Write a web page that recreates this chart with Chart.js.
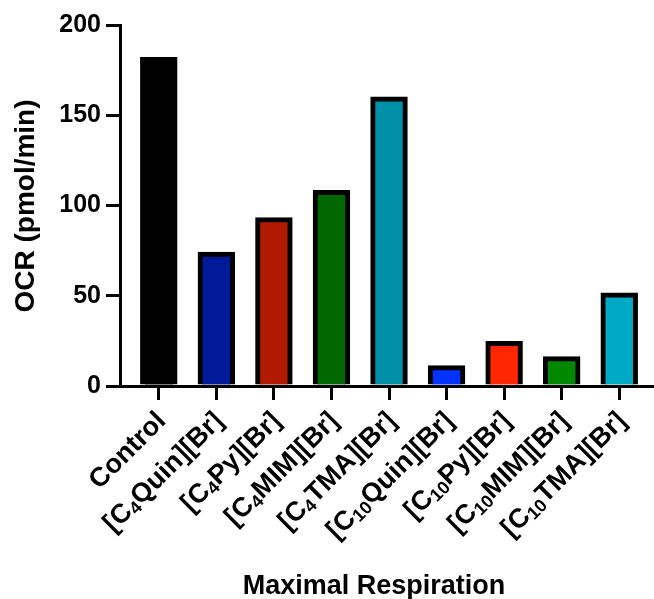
<!DOCTYPE html>
<html>
<head>
<meta charset="utf-8">
<script src="https://cdn.jsdelivr.net/npm/chart.js@4"></script>
<style>
  html, body { margin: 0; padding: 0; background: #fff; }
  #wrap { width: 654px; height: 599px; }
</style>
</head>
<body>
<div id="wrap"><canvas id="chart" width="654" height="599"></canvas></div>
<script>
// OCR values per compound (pmol/min)
const categories = ['Control', '[C4Quin][Br]', '[C4Py][Br]', '[C4MIM][Br]', '[C4TMA][Br]',
    '[C10Quin][Br]', '[C10Py][Br]', '[C10MIM][Br]', '[C10TMA][Br]'];
const ocr = [182, 74, 93.2, 108.2, 160.1, 11.2, 24.6, 16.2, 51.5];
const barColors = ['#000000', '#001a99', '#b01a00', '#006600', '#0090a8',
    '#0033ff', '#ff2600', '#008800', '#00aac5'];
const yTicks = [0, 50, 100, 150, 200];

const xTitle = 'Maximal Respiration';
const yTitle = 'OCR (pmol/min)';

const FONT = '"Liberation Sans", Arial, sans-serif';
Chart.defaults.font.family = FONT;
Chart.defaults.color = '#000';

// rotated category labels with subscripted chain length
const labelPlugin = {
    id: 'labels',
    afterDraw(chart) {
        const ctx = chart.ctx;
        const xs = chart.scales.x;
        const size = 27, subSize = 18;
        categories.forEach((name, i) => {
            const m = name.match(/^(\[C)(\d+)(.*)$/);
            const parts = m ? [[m[1], size, 0], [m[2], subSize, 6], [m[3], size, 0]] : [[name, size, 0]];
            ctx.save();
            let total = 0;
            parts.forEach(p => { ctx.font = 'bold ' + p[1] + 'px ' + FONT; total += ctx.measureText(p[0]).width; });
            ctx.translate(xs.getPixelForValue(i) + 3, 417);
            ctx.rotate(-Math.PI / 4);
            ctx.fillStyle = '#000';
            ctx.textBaseline = 'middle';
            ctx.textAlign = 'left';
            let u = -total;
            parts.forEach(p => {
                ctx.font = 'bold ' + p[1] + 'px ' + FONT;
                ctx.fillText(p[0], u, p[2]);
                u += ctx.measureText(p[0]).width;
            });
            ctx.restore();
        });

        // axis titles
        ctx.save();
        ctx.fillStyle = '#000';
        ctx.textAlign = 'center';
        ctx.textBaseline = 'alphabetic';
        ctx.font = 'bold 27px ' + FONT;
        ctx.fillText(xTitle, 374, 594);
        ctx.translate(34, 206);
        ctx.rotate(-Math.PI / 2);
        ctx.font = 'bold 28px ' + FONT;
        ctx.fillText(yTitle, 0, 0);
        ctx.restore();
    }
};

const ctx = document.getElementById('chart').getContext('2d');
new Chart(ctx, {
    type: 'bar',
    data: {
        datasets: [{
            data: ocr.map((v, i) => ({ x: i, y: v })),
            backgroundColor: barColors,
            borderColor: '#000',
            borderWidth: 5,
            inflateAmount: 0.6,
            barPercentage: 0.63,
            categoryPercentage: 1
        }]
    },
    options: {
        responsive: false,
        animation: false,
        layout: { padding: { top: 25, left: 0, right: 0, bottom: 0 } },
        plugins: { legend: { display: false }, tooltip: { enabled: false } },
        scales: {
            x: {
                type: 'linear',
                offset: false,
                min: -0.674,
                max: 8.604,
                afterFit: s => { s.height = 213; },
                ticks: { display: false, stepSize: 1, includeBounds: false },
                grid: { offset: false, drawOnChartArea: false, color: '#000', lineWidth: 3, tickLength: 14 },
                border: { color: '#000', width: 3 }
            },
            y: {
                min: 0,
                max: 200,
                afterFit: s => { s.width = 120; },
                afterBuildTicks: s => { s.ticks = yTicks.map(v => ({ value: v })); },
                ticks: { font: { size: 25, weight: 'bold' }, color: '#000', padding: 5 },
                grid: { drawOnChartArea: false, color: '#000', lineWidth: 3, tickLength: 14 },
                border: { color: '#000', width: 3 }
            }
        }
    },
    plugins: [labelPlugin]
});
</script>
</body>
</html>
